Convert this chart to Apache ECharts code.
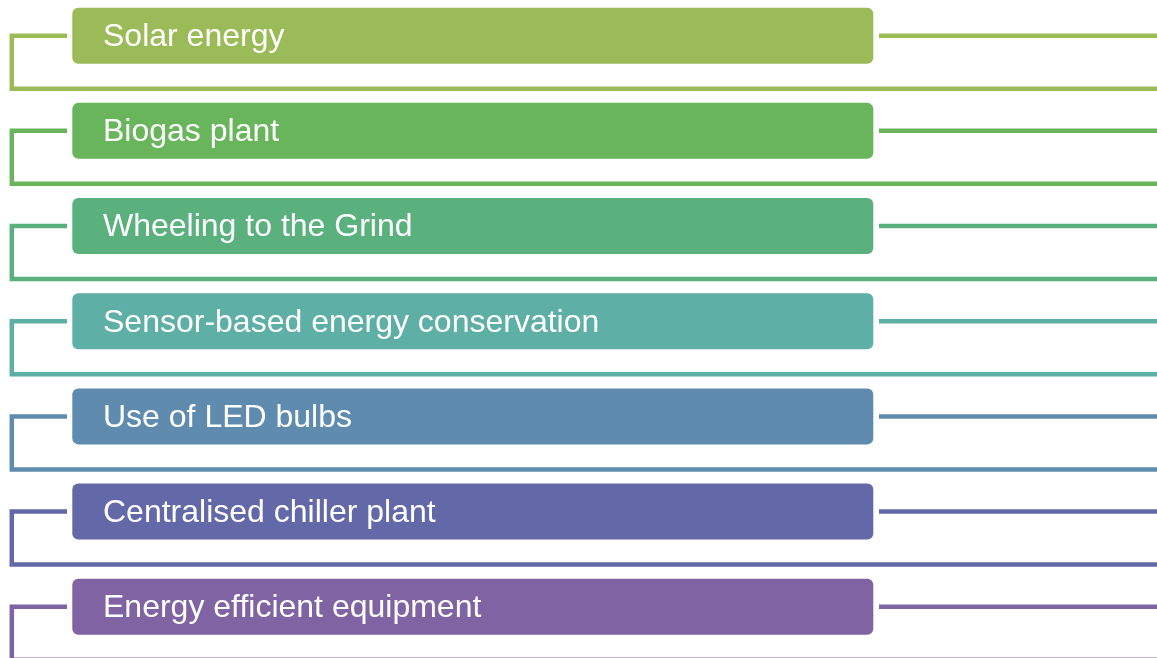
<!DOCTYPE html>
<html>
<head>
<meta charset="utf-8">
<script src="https://cdn.jsdelivr.net/npm/echarts@6/dist/echarts.min.js"></script>
<style>
html,body{margin:0;padding:0;background:#fff;}
#chart{width:1157px;height:658px;}
</style>
</head>
<body>
<div id="chart"></div>
<script>
// Items of the list diagram (top to bottom)
const categories = [
  'Solar energy',
  'Biogas plant',
  'Wheeling to the Grind',
  'Sensor-based energy conservation',
  'Use of LED bulbs',
  'Centralised chiller plant',
  'Energy efficient equipment'
];
const palette = ['#9BBB59','#68B55B','#5BB17E','#5EAFA5','#5F8CAE','#6268A8','#7F63A2'];

const chart = echarts.init(document.getElementById('chart'), null, {renderer:'canvas'});

// layout (pixel-domain x axis, row-index y axis)
const W = 1157, H = 658;
const pitch = 95.17, firstCenter = 35.7;
const yMin = -firstCenter / pitch;
const yMax = yMin + H / pitch;

const data = categories.map((c, i) => [i, c]);

chart.setOption({
  animation: false,
  grid: {left: 0, right: 0, top: 0, bottom: 0},
  xAxis: {type: 'value', min: 0, max: W, show: false},
  yAxis: {type: 'value', min: yMin, max: yMax, inverse: true, show: false},
  series: [{
    type: 'custom',
    data: data,
    clip: false,
    renderItem: function (params, api) {
      const i = api.value(0);
      const label = categories[i];
      const color = palette[i % palette.length];
      const c = api.coord([0, i])[1];
      const x = v => api.coord([v, i])[0];
      const lw = 4.5;
      const drop = 53;
      return {
        type: 'group',
        children: [
          {
            type: 'polyline',
            shape: {points: [[x(67), c], [x(11.8), c], [x(11.8), c + drop], [x(W + 5), c + drop]]},
            style: {stroke: color, lineWidth: lw, fill: null, lineJoin: 'miter', lineCap: 'butt'}
          },
          {
            type: 'line',
            shape: {x1: x(879), y1: c, x2: x(W + 5), y2: c},
            style: {stroke: color, lineWidth: lw}
          },
          {
            type: 'rect',
            shape: {x: x(72.3), y: c - 28, width: x(873.3) - x(72.3), height: 56, r: 6},
            style: {fill: color}
          },
          {
            type: 'text',
            x: x(103),
            y: c + 1.5,
            style: {
              text: label,
              fill: '#ffffff',
              font: '32px "Liberation Sans", Arial, sans-serif',
              textAlign: 'left',
              textVerticalAlign: 'middle'
            }
          }
        ]
      };
    }
  }]
});
</script>
</body>
</html>
